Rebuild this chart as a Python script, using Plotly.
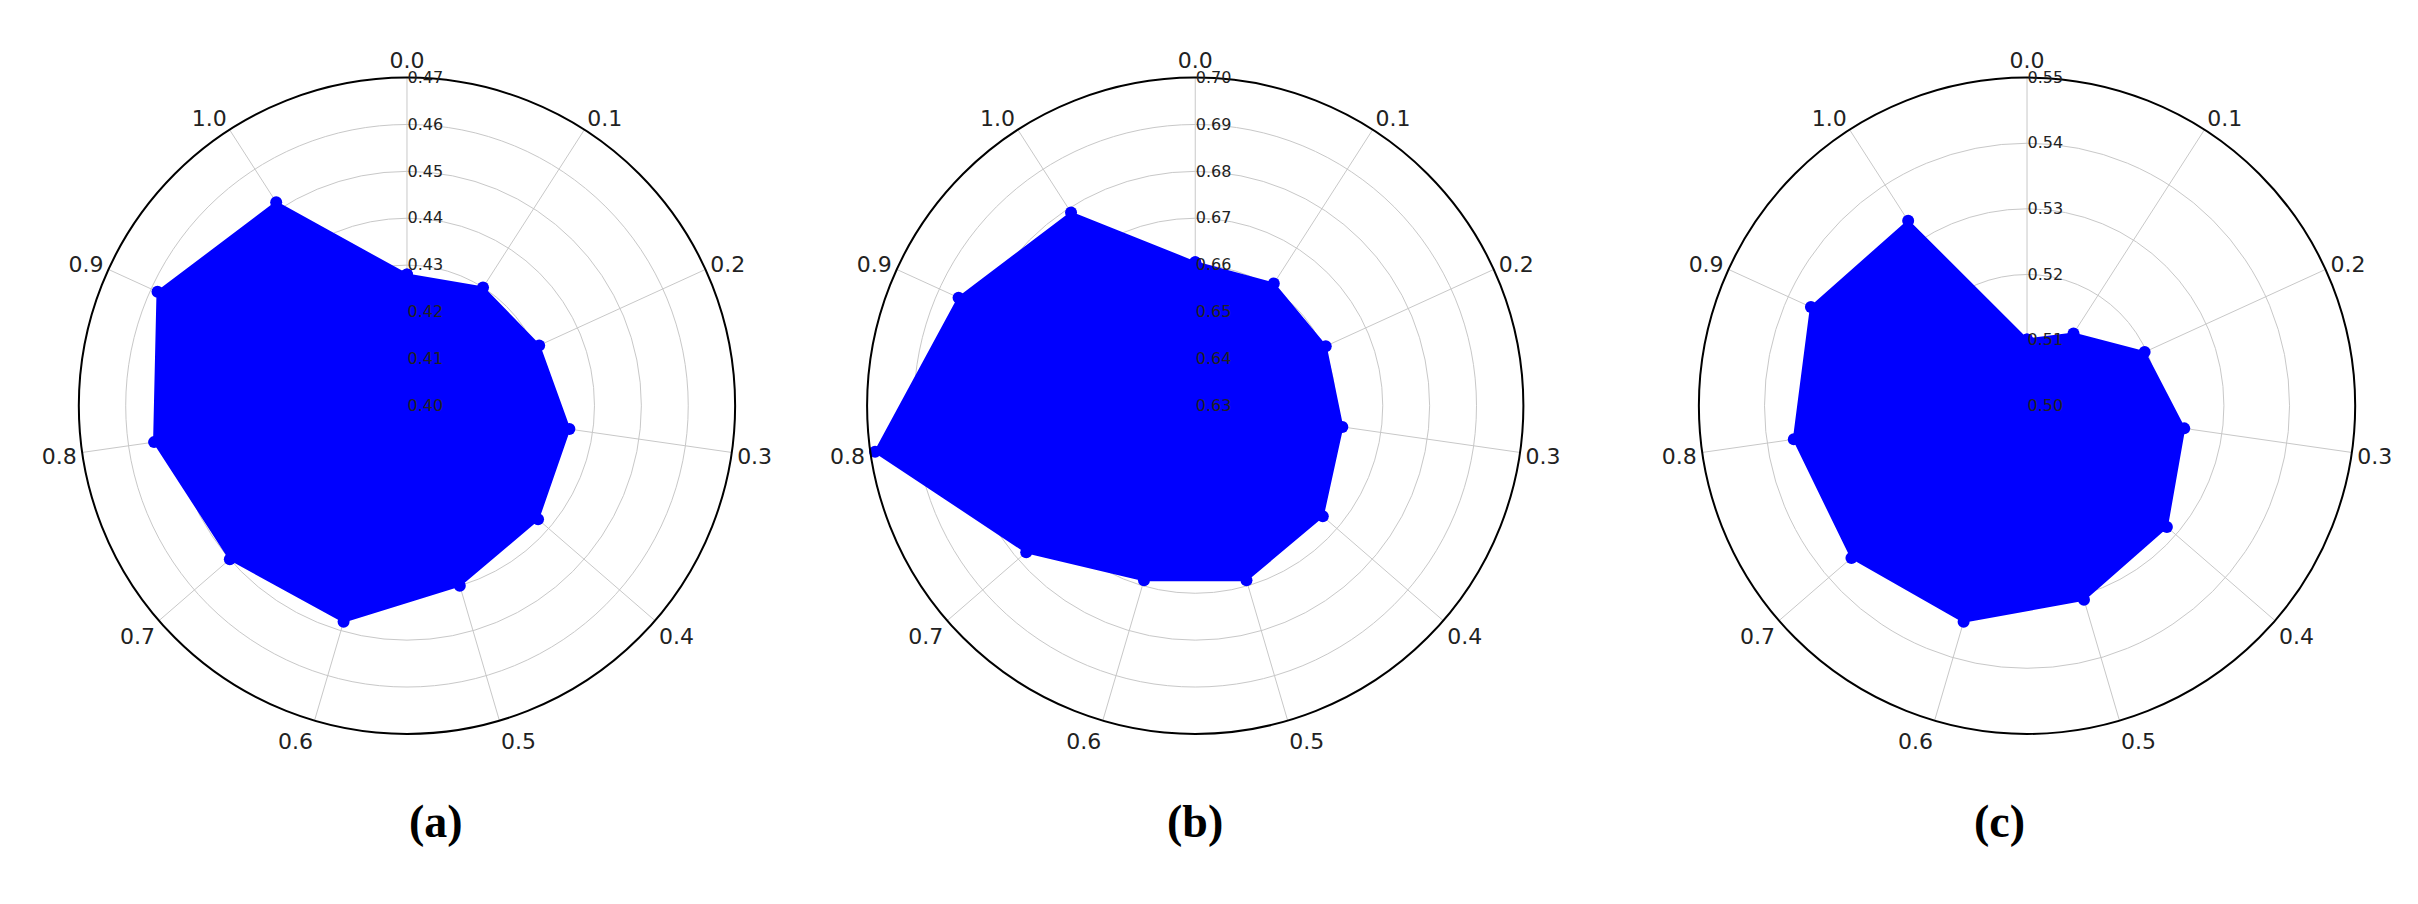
import plotly.graph_objects as go

categories = ["0.0","0.1","0.2","0.3","0.4","0.5","0.6","0.7","0.8","0.9","1.0"]
values_a = [0.428,0.430,0.431,0.435,0.437,0.440,0.448,0.450,0.4545,0.4585,0.4516]
values_b = [0.6606,0.661,0.6606,0.6617,0.666,0.6688,0.6688,0.6777,0.699,0.6855,0.679]
values_c = [0.5101,0.5131,0.5197,0.5242,0.5282,0.5308,0.5343,0.5354,0.5359,0.5362,0.5335]
ranges = [(0.40,0.47),(0.63,0.70),(0.50,0.55)]
rticks = [[0.40,0.41,0.42,0.43,0.44,0.45,0.46,0.47],
          [0.63,0.64,0.65,0.66,0.67,0.68,0.69,0.70],
          [0.50,0.51,0.52,0.53,0.54,0.55]]
captions = ["(a)","(b)","(c)"]

n = len(categories)
thetas = [i*360/n for i in range(n)]
fig = go.Figure()
xdoms = [[0.029,0.301],[0.355,0.627],[0.699,0.971]]
for k, vals in enumerate([values_a, values_b, values_c]):
    pid = "polar" if k == 0 else f"polar{k+1}"
    fig.add_trace(go.Scatterpolar(r=vals+[vals[0]], theta=thetas+[thetas[0]], mode="lines+markers",
        fill="toself", fillcolor="#0000ff", line=dict(color="#0000ff", width=2),
        marker=dict(color="#0000ff", size=12), subplot=pid, showlegend=False))
    fig.layout[pid] = dict(
        domain=dict(x=xdoms[k], y=[0.197,0.923]), bgcolor="white",
        angularaxis=dict(rotation=90, direction="clockwise", tickvals=thetas, ticktext=categories,
                         gridcolor="#c8c8c8", linecolor="black", linewidth=2, showline=True,
                         ticks="", tickfont=dict(size=22, color="#222", family="DejaVu Sans")),
        radialaxis=dict(range=list(ranges[k]), tickvals=rticks[k], ticktext=[f"{v:.2f}" for v in rticks[k]],
                        angle=90, tickangle=90, gridcolor="#c8c8c8", showline=False, ticks="",
                        tickfont=dict(size=16, color="#222", family="DejaVu Sans")),
    )
    fig.add_annotation(text=f"<b>{captions[k]}</b>", x=sum(xdoms[k])/2, y=0.07, xref="paper", yref="paper",
                       showarrow=False, font=dict(size=46, family="Liberation Serif", color="black"))

fig.update_layout(width=2418, height=904, paper_bgcolor="white", margin=dict(l=0,r=0,t=0,b=0))
fig.write_html("out.html")
